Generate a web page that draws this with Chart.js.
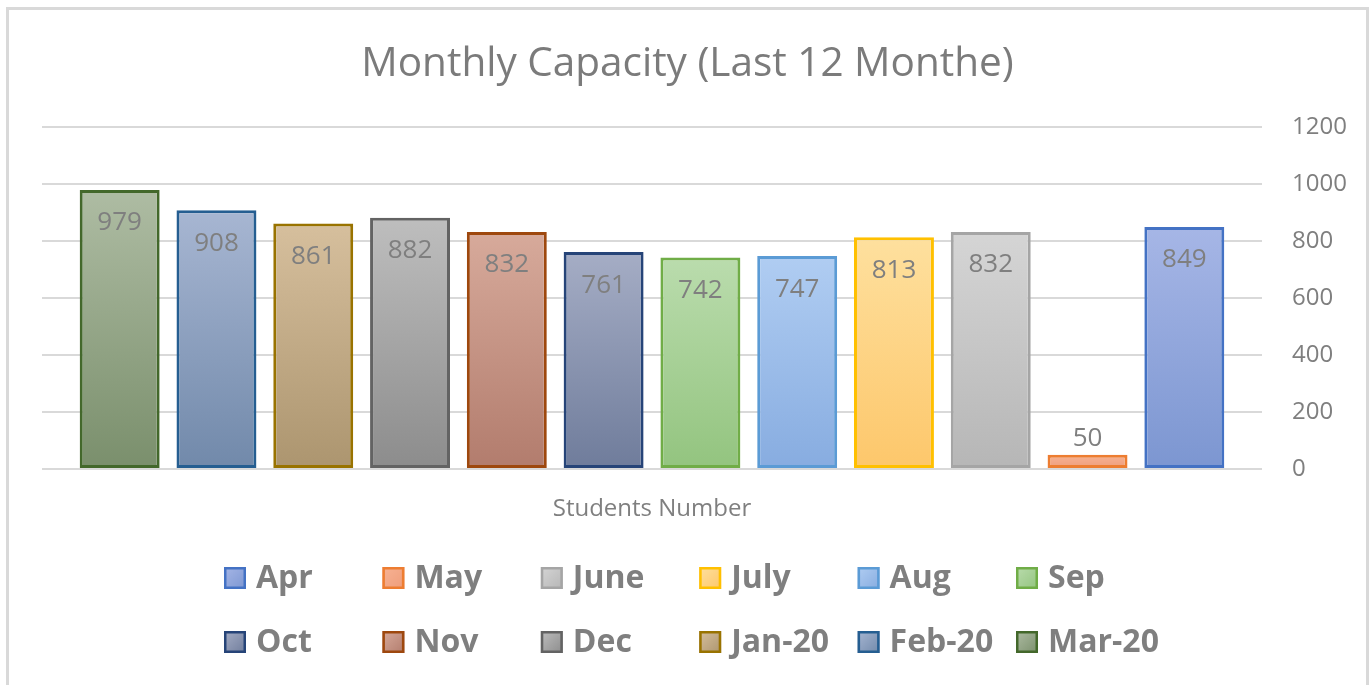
<!DOCTYPE html>
<html>
<head>
<meta charset="utf-8">
<script src="https://cdn.jsdelivr.net/npm/chart.js@4.4.1/dist/chart.umd.min.js"></script>
<style>
  html, body { margin: 0; padding: 0; background: #ffffff; overflow: hidden; }
  #frame { position: absolute; left: 6px; top: 7px; width: 1363px; height: 700px; border: 3px solid #d9d9d9; box-sizing: border-box; background: #fff; }
  #wrap { position: absolute; left: 0px; top: 0px; width: 1357px; height: 675px; }
</style>
</head>
<body>
<div id="frame"><div id="wrap"><canvas id="c"></canvas></div></div>
<script>
// ---- data ----
const categories = ['Students Number'];
const seriesNames = ['Apr', 'May', 'June', 'July', 'Aug', 'Sep', 'Oct', 'Nov', 'Dec', 'Jan-20', 'Feb-20', 'Mar-20'];
const seriesValues = [849, 50, 832, 813, 747, 742, 761, 832, 882, 861, 908, 979];
const yTickValues = [0, 200, 400, 600, 800, 1000, 1200];
const chartTitle = 'Monthly Capacity (Last 12 Monthe)';

// ---- styles ----
const borderColors = ['#4472c4', '#ed7d31', '#a5a5a5', '#ffc000', '#5b9bd5', '#70ad47', '#264478', '#9e480e', '#636363', '#997300', '#255e91', '#43682b'];
const topColors    = ['#a6b6e6', '#f7b394', '#d5d5d5', '#fee09e', '#b0cdf2', '#badcad', '#a5adc5', '#d7aa9b', '#bebebe', '#d6bf9d', '#a7b6d2', '#aebca3'];
const bottomColors = ['#7c96d1', '#ee9c7a', '#b6b6b6', '#fdc76b', '#87ace0', '#93c47f', '#6f7c9b', '#b27c6d', '#8c8c8c', '#ac956f', '#7189aa', '#7a8f6c'];
const textGray = '#7f7f7f';
const FONT = "'Open Sans', 'Liberation Sans', sans-serif";

Chart.defaults.font.family = FONT;
Chart.defaults.color = textGray;

function barGradient(i) {
  return function (ctx) {
    const chart = ctx.chart;
    if (!chart.chartArea || !chart.scales.y) return topColors[i];
    const ys = chart.scales.y;
    const yTop = ys.getPixelForValue(seriesValues[i]);
    const yBot = ys.getPixelForValue(0);
    if (!isFinite(yTop) || !isFinite(yBot) || yBot - yTop < 1) return topColors[i];
    const g = chart.ctx.createLinearGradient(0, yTop, 0, yBot);
    g.addColorStop(0, topColors[i]);
    g.addColorStop(1, bottomColors[i]);
    return g;
  };
}

// datasets in reverse so that Apr is on the right, Mar-20 on the left
const datasets = [];
for (let i = seriesNames.length - 1; i >= 0; i--) {
  datasets.push({
    label: seriesNames[i],
    data: [seriesValues[i]],
    xAxisID: 'x',
    yAxisID: 'y',
    backgroundColor: barGradient(i),
    borderColor: borderColors[i],
    borderWidth: 3,
    borderSkipped: false,
    categoryPercentage: 0.952,
    barPercentage: 0.826
  });
}

const dataLabels = {
  id: 'dataLabels',
  afterDatasetsDraw(chart) {
    const ctx = chart.ctx;
    ctx.save();
    ctx.font = "26px " + FONT;
    ctx.fillStyle = textGray;
    ctx.textAlign = 'center';
    ctx.textBaseline = 'middle';
    chart.data.datasets.forEach((ds, di) => {
      const meta = chart.getDatasetMeta(di);
      meta.data.forEach((el, k) => {
        const v = ds.data[k];
        const h = el.base - el.y;
        const y = h > 50 ? el.y + 33 : el.y - 16;
        ctx.fillText(String(v), el.x, y);
      });
    });
    ctx.restore();
  }
};

const gridLegend = {
  id: 'gridLegend',
  afterDraw(chart) {
    const ctx = chart.ctx;
    ctx.save();
    ctx.font = "bold 32px " + FONT;
    ctx.textBaseline = 'middle';
    ctx.textAlign = 'left';
    const x0 = 215, dx = 158.4, y0 = 568, dy = 64, box = 22;
    seriesNames.forEach((name, i) => {
      const col = i % 6, row = Math.floor(i / 6);
      const bx = x0 + col * dx;
      const cy = y0 + row * dy;
      const by = cy - box / 2;
      const g = ctx.createLinearGradient(bx, by, bx + box, by + box);
      g.addColorStop(0, topColors[i]);
      g.addColorStop(1, bottomColors[i]);
      ctx.fillStyle = g;
      ctx.fillRect(bx, by, box, box);
      ctx.lineWidth = 2.5;
      ctx.strokeStyle = borderColors[i];
      ctx.strokeRect(bx + 1.25, by + 1.25, box - 2.5, box - 2.5);
      ctx.fillStyle = textGray;
      ctx.fillText(name, bx + 32, cy + 1);
    });
    ctx.restore();
  }
};

new Chart(document.getElementById('c'), {
  type: 'bar',
  data: { labels: categories, datasets: datasets },
  options: {
    responsive: true,
    maintainAspectRatio: false,
    animation: false,
    layout: { padding: { left: 0, right: 0, top: 0, bottom: 0 } },
    plugins: {
      legend: { display: false },
      tooltip: { enabled: false },
      title: {
        display: true,
        text: chartTitle,
        color: '#7b7b7b',
        font: { size: 40.5, weight: 'normal', family: FONT, lineHeight: 1.2 },
        padding: { top: 30, bottom: 38.4 }
      }
    },
    scales: {
      x: {
        grid: { display: false, drawTicks: false },
        border: { display: false },
        ticks: { color: textGray, font: { size: 24 }, padding: 26 },
        afterFit(scale) { scale.height = 216; }
      },
      y: {
        position: 'right',
        min: 0,
        max: 1200,
        afterBuildTicks(scale) { scale.ticks = yTickValues.map(v => ({ value: v })); },
        grid: { color: '#d9d9d9', lineWidth: 2, drawTicks: false },
        border: { display: false },
        ticks: { color: textGray, font: { size: 24 }, padding: 30, callback: (v) => String(v) },
        afterFit(scale) { scale.width = 104; }
      },
      yLeftSpace: {
        type: 'linear',
        axis: 'y',
        position: 'left',
        display: true,
        min: 0,
        max: 1,
        grid: { display: false, drawTicks: false },
        border: { display: false },
        ticks: { display: false },
        afterFit(scale) { scale.width = 33; }
      }
    }
  },
  plugins: [dataLabels, gridLegend]
});
</script>
</body>
</html>
